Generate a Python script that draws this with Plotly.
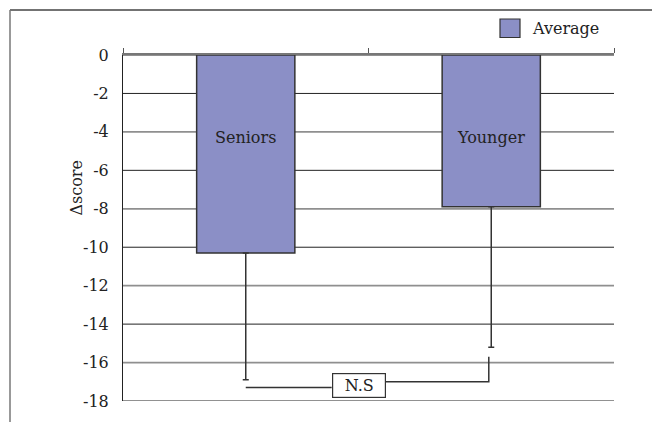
import plotly.graph_objects as go

# Mean change in score per group, with the lower spread shown as error bars
groups = ["Seniors", "Younger"]
mean_delta = [-10.3, -7.9]
err_minus = [6.6, 7.3]
series_name = "Average"
y_ticks = [0, -2, -4, -6, -8, -10, -12, -14, -16, -18]

# significance bracket between the groups
bracket_left_y = -17.3
bracket_right_y = -17.0
bracket_right_top = -15.7
bracket_label = "N.S"

BAR_FILL = "#8b8fc6"
EDGE = "#333333"
FONT = "DejaVu Serif"
FS = 16

W, H = 652, 422
ML, MR, MT, MB = 123, 38, 55, 21
PW, PH = W - ML - MR, H - MT - MB


def px_x(px):
    return (px - ML) / PW


def px_y(py):
    return (H - MB - py) / PH


xpos = list(range(len(groups)))

fig = go.Figure()
fig.add_trace(go.Bar(
    x=xpos, y=mean_delta, width=0.4, name=series_name,
    marker=dict(color=BAR_FILL, line=dict(color=EDGE, width=1.5)),
    error_y=dict(type="data", symmetric=False, array=[0] * len(groups),
                 arrayminus=err_minus, color=EDGE, thickness=1.5, width=3),
    showlegend=False,
))

# bracket lines
fig.add_trace(go.Scatter(
    x=[xpos[0], 0.35], y=[bracket_left_y, bracket_left_y], mode="lines",
    line=dict(color=EDGE, width=1.5), showlegend=False, hoverinfo="skip"))
fig.add_trace(go.Scatter(
    x=[0.57, xpos[1] - 0.01, xpos[1] - 0.01],
    y=[bracket_right_y, bracket_right_y, bracket_right_top], mode="lines",
    line=dict(color=EDGE, width=1.5), showlegend=False, hoverinfo="skip"))

shapes = []
# horizontal gridlines: dark ones, with lighter ones at every fourth unit
for t in y_ticks:
    if t % 4 == 0 and t not in (0, y_ticks[-1]):
        line = dict(color="#8f8f8f", width=1.8)
    else:
        line = dict(color="#222222", width=1)
    shapes.append(dict(type="line", xref="paper", yref="y", x0=0, x1=1,
                       y0=t, y1=t, line=line, layer="below"))
# outer frame (top and left)
shapes.append(dict(type="line", xref="paper", yref="paper",
                   x0=px_x(10), x1=px_x(W + 5), y0=px_y(10), y1=px_y(10),
                   line=dict(color="#444444", width=1.5)))
shapes.append(dict(type="line", xref="paper", yref="paper",
                   x0=px_x(10), x1=px_x(10), y0=px_y(10), y1=px_y(H + 5),
                   line=dict(color="#777777", width=1.5)))
# legend key
shapes.append(dict(type="rect", xref="paper", yref="paper",
                   x0=px_x(500), x1=px_x(520), y0=px_y(37.5), y1=px_y(19),
                   fillcolor=BAR_FILL, line=dict(color=EDGE, width=1.2)))

annotations = []
for i, g in enumerate(groups):
    annotations.append(dict(x=xpos[i], y=-4.27, xref="x", yref="y", text=g,
                            showarrow=False, font=dict(family=FONT, size=FS, color="#222")))
annotations.append(dict(x=0.46, y=-17.2, xref="x", yref="y", text=bracket_label,
                        showarrow=False, bgcolor="white", bordercolor=EDGE,
                        borderwidth=1.2, borderpad=1, width=50, height=21,
                        font=dict(family=FONT, size=FS, color="#222")))
annotations.append(dict(x=px_x(530), y=px_y(28), xref="paper", yref="paper",
                        text=series_name, showarrow=False, xanchor="left",
                        yanchor="middle",
                        font=dict(family=FONT, size=FS, color="#222")))
annotations.append(dict(x=px_x(65), y=px_y(188), xref="paper", yref="paper",
                        text="Δscore", showarrow=False, textangle=-90,
                        font=dict(family=FONT, size=FS, color="#222")))

fig.update_layout(
    width=W, height=H,
    margin=dict(l=ML, r=MR, t=MT, b=MB),
    paper_bgcolor="white", plot_bgcolor="white",
    font=dict(family=FONT, size=FS, color="#222"),
    shapes=shapes, annotations=annotations,
    xaxis=dict(range=[-0.5, 1.5], side="top", showgrid=False, zeroline=False,
               showline=True, linecolor="#777777", linewidth=1.5,
               tickvals=[-0.5, 0.5, 1.5], ticktext=["", "", ""],
               ticks="outside", ticklen=5, tickcolor="#555555", tickwidth=1),
    yaxis=dict(range=[-18, 0], tickvals=y_ticks,
               ticktext=[str(t) for t in y_ticks],
               showgrid=False, zeroline=False,
               showline=True, linecolor="#222222", linewidth=1,
               ticks="", ticklabelstandoff=10,
               tickfont=dict(family=FONT, size=FS, color="#222")),
)

fig.write_html("out.html")
